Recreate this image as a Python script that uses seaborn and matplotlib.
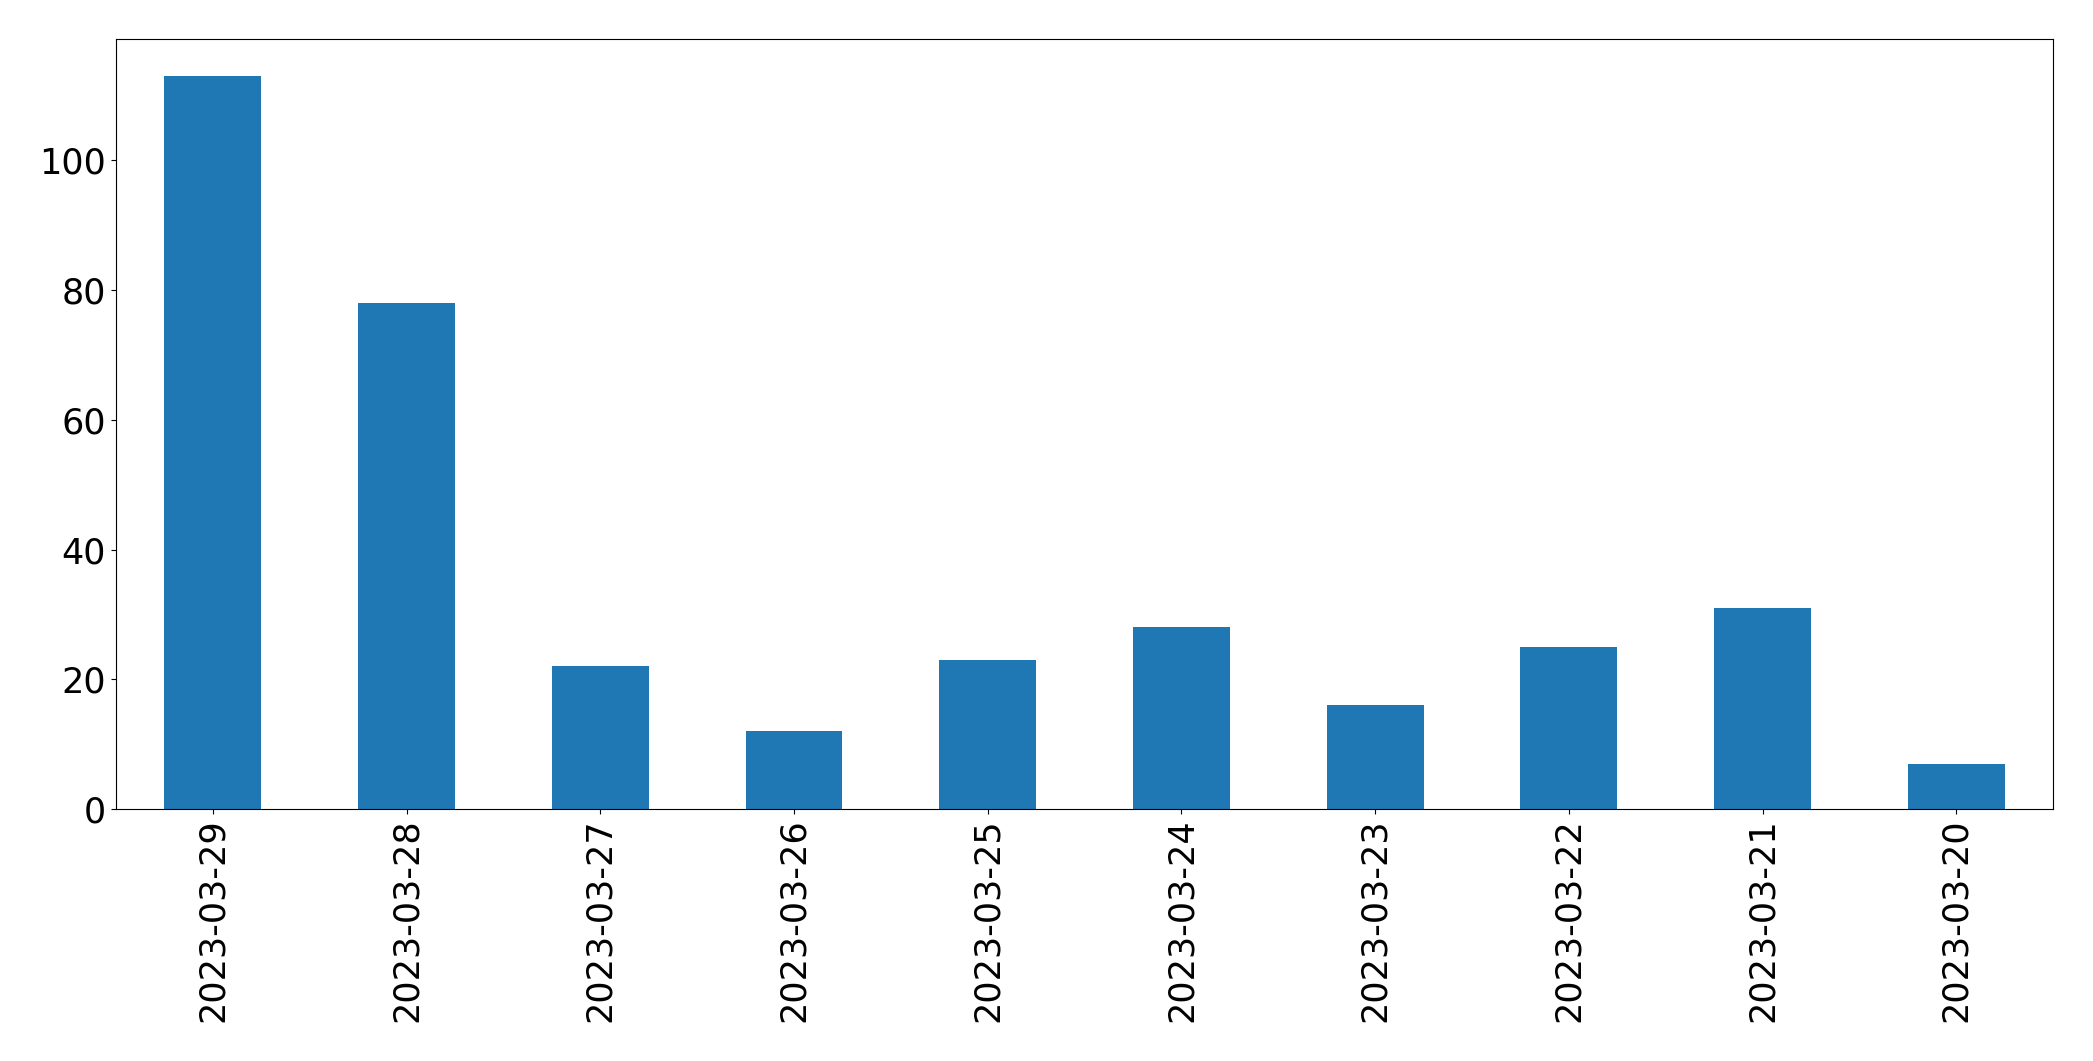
"""
Daily counts bar chart (seaborn recreation)
"""
import pandas as pd
import matplotlib
matplotlib.use('Agg')
import matplotlib.pyplot as plt
import seaborn as sns

# Data
dates = ['2023-03-29', '2023-03-28', '2023-03-27', '2023-03-26', '2023-03-25',
         '2023-03-24', '2023-03-23', '2023-03-22', '2023-03-21', '2023-03-20']
counts = [113, 78, 22, 12, 23, 28, 16, 25, 31, 7]

df = pd.DataFrame({'date': dates, 'count': counts})

fig, ax = plt.subplots(figsize=(20.93, 10.61), dpi=100)

sns.barplot(data=df, x='date', y='count', order=dates, color='#1f77b4',
            saturation=1, width=0.5, linewidth=0, ax=ax)

ax.set_xlabel('')
ax.set_ylabel('')
ax.set_xlim(-0.5, len(dates) - 0.5)
ax.set_ylim(0, max(counts) * 1.05)
ax.tick_params(axis='both', labelsize=25.2)
ax.tick_params(axis='x', labelrotation=90)
for spine in ax.spines.values():
    spine.set_color('black')

plt.subplots_adjust(left=0.0554, right=0.981, bottom=0.2375, top=0.963)
plt.savefig('out.png', dpi=100)
